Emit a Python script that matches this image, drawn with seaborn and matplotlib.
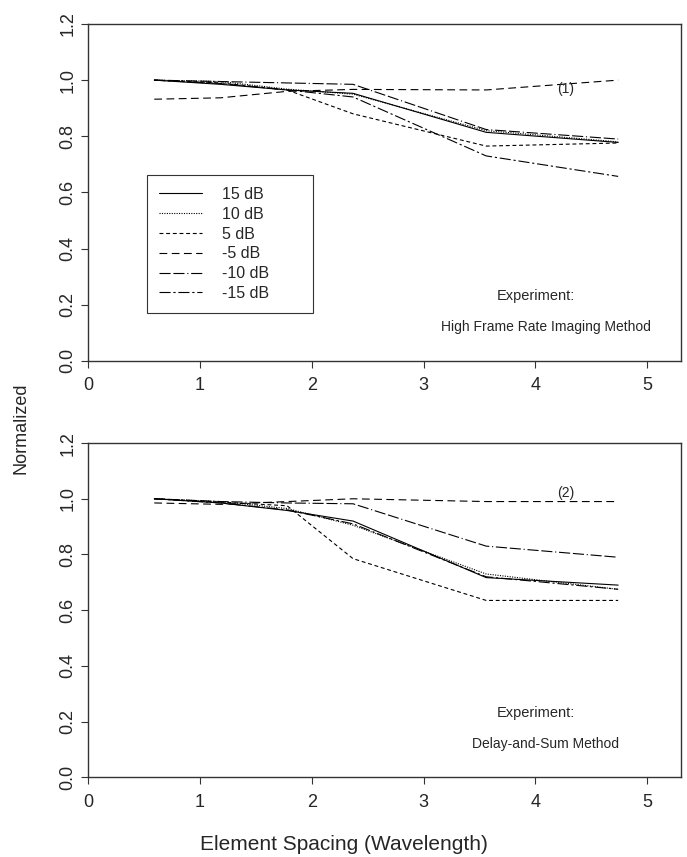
import matplotlib
matplotlib.use("Agg")
import matplotlib.pyplot as plt
import pandas as pd
import seaborn as sns

sns.set_style("ticks")
plt.rcParams["font.family"] = ["Liberation Sans", "DejaVu Sans"]

spacing = [0.593, 1.186, 1.78, 2.37, 3.56, 4.74]
labels = ["15 dB", "10 dB", "5 dB", "-5 dB", "-10 dB", "-15 dB"]

# (1) High Frame Rate Imaging Method
hfr_15 = [1.0, 0.985, 0.965, 0.953, 0.814, 0.778]
hfr_10 = [1.0, 0.995, 0.968, 0.950, 0.820, 0.780]
hfr_5 = [1.0, 0.990, 0.965, 0.880, 0.765, 0.776]
hfr_m5 = [0.932, 0.937, 0.960, 0.967, 0.965, 1.0]
hfr_m10 = [1.0, 0.995, 0.990, 0.985, 0.824, 0.790]
hfr_m15 = [1.0, 0.988, 0.965, 0.940, 0.730, 0.657]

# (2) Delay-and-Sum Method
das_15 = [1.0, 0.985, 0.958, 0.920, 0.717, 0.690]
das_10 = [1.0, 0.990, 0.965, 0.905, 0.730, 0.675]
das_5 = [1.0, 0.988, 0.975, 0.785, 0.635, 0.635]
das_m5 = [0.985, 0.980, 0.990, 1.0, 0.990, 0.990]
das_m10 = [1.0, 0.990, 0.985, 0.982, 0.830, 0.790]
das_m15 = [1.0, 0.985, 0.960, 0.910, 0.720, 0.675]

dash_map = {
    "15 dB": "",
    "10 dB": (1, 1.2),
    "5 dB": (3.5, 2.5),
    "-5 dB": (7, 4),
    "-10 dB": (10, 2.5, 10, 2.5, 1, 2.5),
    "-15 dB": (10, 2.5, 2, 2.5),
}


def long_form(series):
    rows = []
    for lab, vals in zip(labels, series):
        for x, y in zip(spacing, vals):
            rows.append({"spacing": x, "value": y, "snr": lab})
    return pd.DataFrame(rows)


panels = [
    (long_form([hfr_15, hfr_10, hfr_5, hfr_m5, hfr_m10, hfr_m15]),
     "(1)", "High Frame Rate Imaging Method", True),
    (long_form([das_15, das_10, das_5, das_m5, das_m10, das_m15]),
     "(2)", "Delay-and-Sum Method", False),
]

fig = plt.figure(figsize=(6.87, 8.57), dpi=100)
ax_top = fig.add_axes([0.128, 0.579, 0.863, 0.393])
ax_bot = fig.add_axes([0.128, 0.093, 0.863, 0.390])

for ax, (df, tag, method, show_leg) in zip([ax_top, ax_bot], panels):
    sns.lineplot(data=df, x="spacing", y="value", style="snr",
                 style_order=labels, dashes=dash_map, color="black",
                 linewidth=0.8, ax=ax, legend=show_leg)
    ax.set_xlim(0, 5.3)
    ax.set_ylim(0, 1.2)
    ax.set_xticks([0, 1, 2, 3, 4, 5])
    ax.set_yticks([0.0, 0.2, 0.4, 0.6, 0.8, 1.0, 1.2])
    ax.set_yticklabels(["0.0", "0.2", "0.4", "0.6", "0.8", "1.0", "1.2"],
                       rotation=90, va="center")
    ax.tick_params(labelsize=13, length=5, width=0.8, color="#333333")
    ax.tick_params(axis="x", pad=7)
    for s in ax.spines.values():
        s.set_visible(True)
        s.set_linewidth(1.0)
        s.set_color("#333333")
    ax.set_xlabel("")
    ax.set_ylabel("")
    ax.text(4.27, 0.97 if tag == "(1)" else 1.02, tag, fontsize=10,
            ha="center", va="center")
    ax.text(4.0, 0.23, "Experiment:", fontsize=10.5, ha="center", va="center")
    ax.text(4.09, 0.12, method, fontsize=10, ha="center", va="center")
    if show_leg:
        handles, labs = ax.get_legend_handles_labels()
        ax.legend(handles, labs, loc="lower left",
                  bbox_to_anchor=(0.10, 0.142, 0.28, 0.4), mode="expand",
                  fontsize=11.5, frameon=True, fancybox=False,
                  edgecolor="#333333", framealpha=1, handlelength=2.7,
                  handletextpad=1.25, labelspacing=0.3, borderpad=0.75,
                  borderaxespad=0)
        ax.get_legend().get_frame().set_linewidth(0.8)

fig.text(0.03, 0.5, "Normalized", rotation=90, fontsize=13,
         ha="center", va="center")
fig.text(0.5, 0.015, "Element Spacing (Wavelength)", fontsize=15,
         ha="center", va="center")

fig.savefig("out.png", dpi=100)
